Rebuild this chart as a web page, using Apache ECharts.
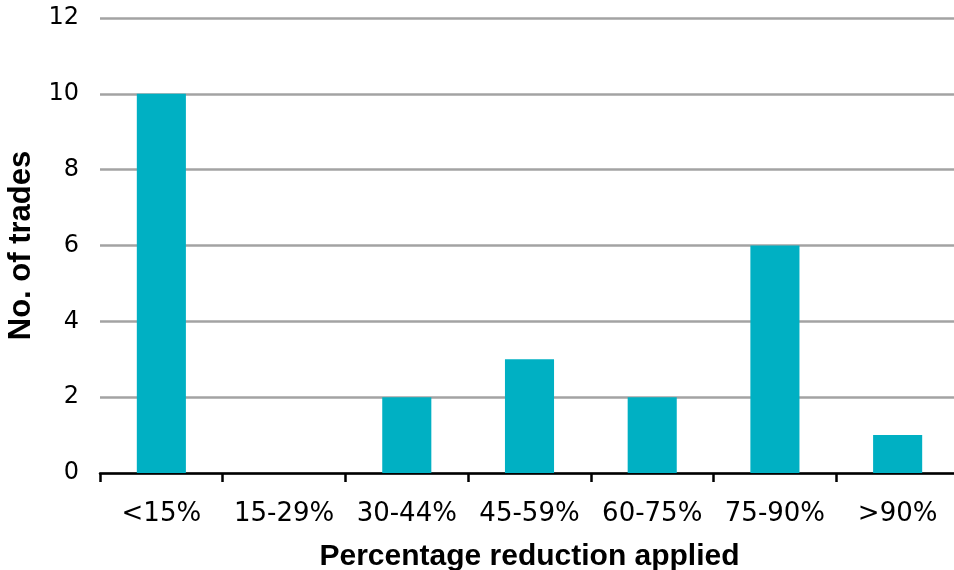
<!DOCTYPE html>
<html>
<head>
<meta charset="utf-8">
<script src="https://cdn.jsdelivr.net/npm/echarts@6/dist/echarts.min.js"></script>
<style>
  html, body { margin: 0; padding: 0; background: #ffffff; }
  #chart { width: 954px; height: 570px; }
</style>
</head>
<body>
<div id="chart"></div>
<script>
// Share of trades by percentage reduction band
const categories = ['<15%', '15-29%', '30-44%', '45-59%', '60-75%', '75-90%', '>90%'];
const tradeCounts = [10, 0, 2, 3, 2, 6, 1];
const yTicks = { min: 0, max: 12, interval: 2 };

const chart = echarts.init(document.getElementById('chart'));
chart.setOption({
  animation: false,
  grid: { left: 100, top: 18, width: 859, height: 455, containLabel: false, outerBoundsMode: 'none' },
  xAxis: {
    type: 'category',
    data: categories,
    name: 'Percentage reduction applied',
    nameLocation: 'middle',
    nameGap: 69,
    nameTextStyle: { fontFamily: 'Liberation Sans, Arial, sans-serif', fontWeight: 'bold', fontSize: 30, color: '#000' },
    axisLine: { lineStyle: { color: '#000', width: 2.5 } },
    axisTick: { show: true, length: 9, interval: 0, lineStyle: { color: '#000', width: 2.5 } },
    axisLabel: { interval: 0, fontFamily: 'DejaVu Sans, Verdana, sans-serif', fontSize: 26, color: '#000', margin: 28 },
    splitLine: { show: false }
  },
  yAxis: {
    type: 'value',
    min: yTicks.min,
    max: yTicks.max,
    interval: yTicks.interval,
    name: 'No. of trades',
    nameLocation: 'middle',
    nameGap: 63,
    nameRotate: 90,
    nameTextStyle: { fontFamily: 'Liberation Sans, Arial, sans-serif', fontWeight: 'bold', fontSize: 31, color: '#000' },
    axisLine: { show: false },
    axisTick: { show: false },
    axisLabel: { fontFamily: 'DejaVu Sans, Verdana, sans-serif', fontSize: 24, color: '#000', margin: 21 },
    splitLine: { lineStyle: { color: '#A3A3A3', width: 2.5 } }
  },
  series: [{
    type: 'bar',
    data: tradeCounts,
    barWidth: '40%',
    itemStyle: { color: '#00B0C3' }
  }]
});
</script>
</body>
</html>
